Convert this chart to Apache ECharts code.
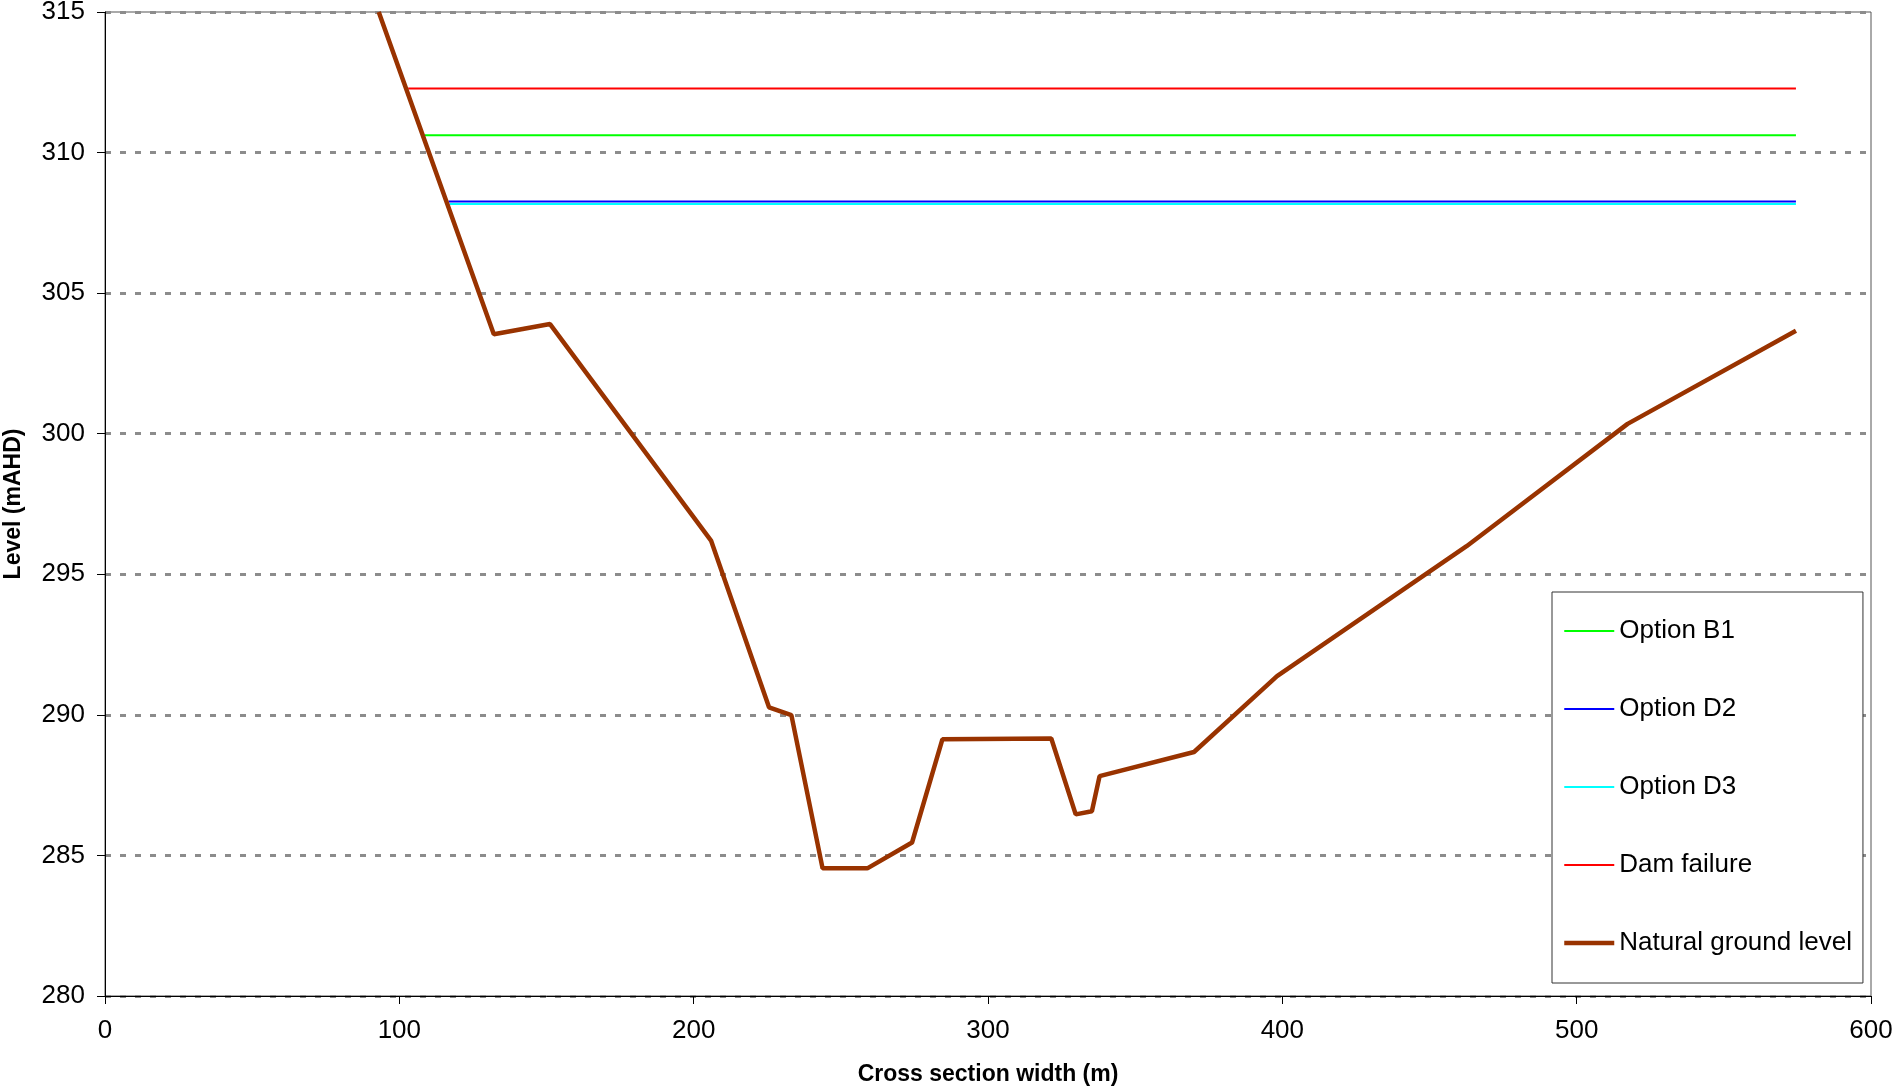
<!DOCTYPE html>
<html>
<head>
<meta charset="utf-8">
<title>Cross section</title>
<script src="https://cdn.jsdelivr.net/npm/echarts@6/dist/echarts.min.js"></script>
<style>
  html, body { margin: 0; padding: 0; background: #fff; }
  #main { width: 1896px; height: 1091px; }
</style>
</head>
<body>
<div id="main"></div>
<script>
  // ground profile (m across, level in mAHD)
  const groundX = [93, 132.1, 151.2, 205.9, 225.6, 233.2, 243.8, 259.0, 274.2, 284.5, 321.5, 329.8, 335.3, 337.9, 370.0, 398.2, 462.6, 517.3, 574.5];
  const groundY = [315, 303.54, 303.9, 296.2, 290.27, 289.99, 284.54, 284.54, 285.46, 289.13, 289.16, 286.46, 286.57, 287.82, 288.68, 291.38, 296.0, 300.35, 303.66];

  // flood levels: start x (where they meet the bank), end x, level
  const levelNames = ['Option B1', 'Option D2', 'Option D3', 'Dam failure'];
  const levelStartX = [108.6, 116.7, 117.1, 103];
  const levelEndX = [574.5, 574.5, 574.5, 574.5];
  const levelValues = [310.62, 308.26, 308.17, 312.28];
  const levelColors = ['#00ff00', '#0000ff', '#00ffff', '#ff0000'];

  const font = "'Liberation Sans', Arial, sans-serif";

  const series = levelNames.map(function (name, i) {
    return {
      name: name,
      type: 'line',
      symbol: 'none',
      color: levelColors[i],
      lineStyle: { width: 2, color: levelColors[i] },
      data: [[levelStartX[i], levelValues[i]], [levelEndX[i], levelValues[i]]]
    };
  });

  series.push({
    name: 'Natural ground level',
    type: 'line',
    symbol: 'none',
    color: '#993300',
    lineStyle: { width: 4.5, color: '#993300' },
    data: groundX.map(function (x, i) { return [x, groundY[i]]; })
  });

  const option = {
    animation: false,
    textStyle: { fontFamily: font },
    grid: {
      left: 105,
      right: 25,
      top: 12,
      bottom: 95,
      // keep the plot box exactly where it is put
      outerBoundsMode: 'none',
      containLabel: false,
      show: true,
      borderColor: '#555',
      borderWidth: 1
    },
    legend: {
      orient: 'vertical',
      left: 1552,
      top: 592,
      padding: [26, 11, 27, 10],
      itemWidth: 50,
      itemHeight: 26,
      itemGap: 52,
      backgroundColor: '#fff',
      borderColor: '#333',
      borderWidth: 1,
      // hide the marker, keep only the line
      itemStyle: { opacity: 0 },
      lineStyle: { width: 'inherit' },
      textStyle: { fontSize: 26, color: '#000', fontFamily: font },
      data: ['Option B1', 'Option D2', 'Option D3', 'Dam failure', 'Natural ground level']
    },
    xAxis: {
      type: 'value',
      min: 0,
      max: 600,
      interval: 100,
      name: 'Cross section width (m)',
      nameLocation: 'middle',
      nameGap: 67,
      nameTextStyle: { fontSize: 23, fontWeight: 'bold', color: '#000', fontFamily: font },
      axisLine: { lineStyle: { color: '#000', width: 1 } },
      axisTick: { show: true, length: 8, lineStyle: { color: '#000' } },
      axisLabel: { fontSize: 26, color: '#000', margin: 22, fontFamily: font },
      splitLine: { show: false }
    },
    yAxis: {
      type: 'value',
      min: 280,
      max: 315,
      interval: 5,
      name: 'Level (mAHD)',
      nameLocation: 'middle',
      nameGap: 80,
      nameTextStyle: { fontSize: 23, fontWeight: 'bold', color: '#000', fontFamily: font },
      axisLine: { show: true, lineStyle: { color: '#000', width: 1 } },
      axisTick: { show: true, length: 8, lineStyle: { color: '#000' } },
      axisLabel: { fontSize: 26, color: '#000', margin: 20, fontFamily: font },
      splitLine: {
        show: true,
        lineStyle: { color: '#8c8c8c', width: 3, type: [6, 9] }
      }
    },
    series: series
  };

  const myChart = echarts.init(document.getElementById('main'));
  myChart.setOption(option);
</script>
</body>
</html>
